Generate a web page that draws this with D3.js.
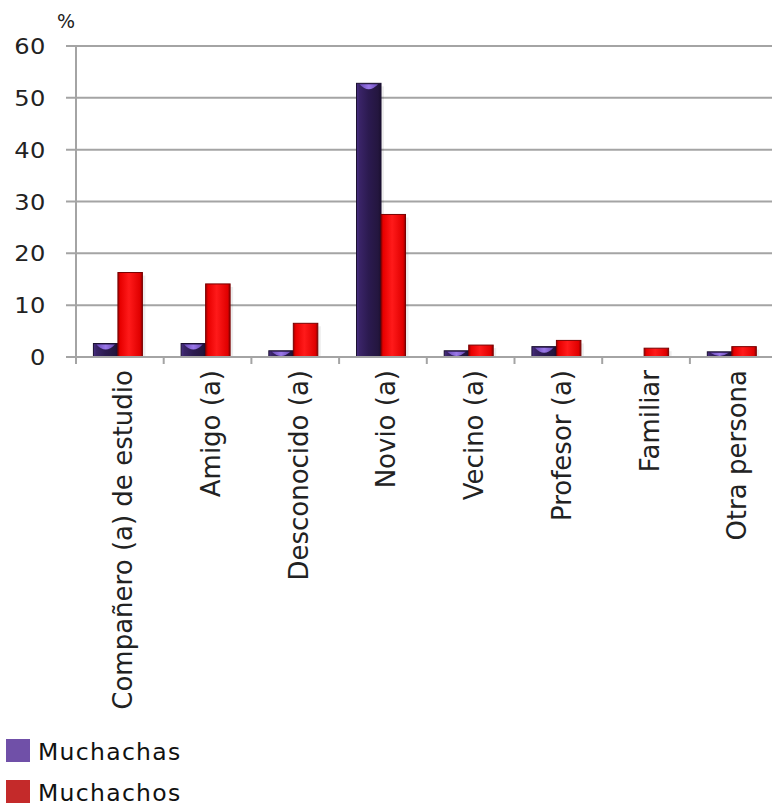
<!DOCTYPE html>
<html>
<head>
<meta charset="utf-8">
<script src="https://cdn.jsdelivr.net/npm/d3@7/dist/d3.min.js"></script>
<style>
  html, body { margin: 0; padding: 0; background: #fff; }
  svg { display: block; font-family: "DejaVu Sans", Verdana, sans-serif; }
</style>
</head>
<body>
<div id="chart"></div>
<script>
// Agresor según sexo de la víctima (%)
const categories = [
  "Compañero (a) de estudio",
  "Amigo (a)",
  "Desconocido (a)",
  "Novio (a)",
  "Vecino (a)",
  "Profesor (a)",
  "Familiar",
  "Otra persona"
];
const seriesNames = ["Muchachas", "Muchachos"];
const muchachas = [2.6, 2.6, 1.2, 52.8, 1.2, 2.0, 0, 1.0];
const muchachos = [16.3, 14.1, 6.5, 27.5, 2.3, 3.2, 1.7, 2.0];
const yTicks = [0, 10, 20, 30, 40, 50, 60];
const unitLabel = "%";

const W = 772, H = 809;
const plotLeft = 76, plotTop = 46, plotBottom = 357;
const step = 87.7;

const svg = d3.select("#chart").append("svg")
  .attr("width", W).attr("height", H);

const defs = svg.append("defs");
function hGrad(id, stops) {
  const g = defs.append("linearGradient").attr("id", id)
    .attr("x1", "0").attr("x2", "1").attr("y1", "0").attr("y2", "0");
  stops.forEach(([o, c]) => g.append("stop").attr("offset", o).attr("stop-color", c));
}
hGrad("gPurple", [[0, "#4a2f86"], [0.12, "#3a2468"], [0.5, "#2b1a4f"], [0.88, "#24163f"], [1, "#1a0f30"]]);
hGrad("gPurpleTop", [[0, "#6a4ab8"], [0.5, "#9a78e8"], [1, "#6a4ab8"]]);
hGrad("gRed", [[0, "#9a0000"], [0.1, "#e80000"], [0.45, "#ff1a1a"], [0.9, "#e00000"], [1, "#8a0000"]]);

const y = d3.scaleLinear().domain([0, 60]).range([plotBottom, plotTop]);
const x = d3.scaleBand().domain(categories)
  .range([plotLeft, plotLeft + step * categories.length]).paddingInner(0).paddingOuter(0);
const xs = d3.scaleBand().domain(seriesNames)
  .range([0, x.bandwidth()]).paddingInner(0).paddingOuter(0.79).align(0.45);

// Horizontal gridlines (also serve as the y tick marks)
svg.append("g").selectAll("line").data(yTicks).join("line")
  .attr("x1", plotLeft - 10).attr("x2", W)
  .attr("y1", d => y(d)).attr("y2", d => y(d))
  .attr("stroke", "#a4a4a4").attr("stroke-width", 2);

// Y axis labels
const yAxis = d3.axisLeft(y).tickValues(yTicks).tickSize(0).tickPadding(0);
const yg = svg.append("g").attr("transform", `translate(${plotLeft - 30},0)`).call(yAxis);
yg.select(".domain").remove();
yg.selectAll("text")
  .attr("font-size", 21)
  .attr("font-family", "DejaVu Sans, Verdana, sans-serif")
  .attr("fill", "#222")
  .attr("letter-spacing", 0.5)
  .attr("text-anchor", "end")
  .attr("x", 0)
  .attr("dy", "0.36em")
  .attr("transform", "scale(1.15,1)");

// Unit label
svg.append("text").text(unitLabel)
  .attr("x", 66).attr("y", 28)
  .attr("text-anchor", "middle")
  .attr("font-size", 19).attr("fill", "#222");

// Left axis line
svg.append("line")
  .attr("x1", plotLeft).attr("x2", plotLeft)
  .attr("y1", plotTop).attr("y2", plotBottom + 7)
  .attr("stroke", "#a4a4a4").attr("stroke-width", 2);

// Category boundary ticks under the baseline
svg.append("g").selectAll("line").data(d3.range(categories.length + 1)).join("line")
  .attr("x1", i => plotLeft + i * x.step()).attr("x2", i => plotLeft + i * x.step())
  .attr("y1", plotBottom).attr("y2", plotBottom + 7)
  .attr("stroke", "#a4a4a4").attr("stroke-width", 2);

// Bars
const rows = categories.map((c, i) => ({ cat: c, vals: [
  { s: "Muchachas", v: muchachas[i] },
  { s: "Muchachos", v: muchachos[i] }
]}));

const groups = svg.append("g").selectAll("g").data(rows).join("g")
  .attr("transform", d => `translate(${x(d.cat)},0)`);

// faint shadow to the right of each bar
groups.selectAll("rect.shadow").data(d => d.vals.filter(e => e.v > 0)).join("rect")
  .attr("class", "shadow")
  .attr("x", d => xs(d.s) + xs.bandwidth())
  .attr("y", d => y(d.v) + 3)
  .attr("width", 3)
  .attr("height", d => y(0) - y(d.v) - 3)
  .attr("fill", "#000").attr("opacity", 0.07);

groups.selectAll("rect.bar").data(d => d.vals.filter(e => e.v > 0)).join("rect")
  .attr("class", "bar")
  .attr("x", d => xs(d.s))
  .attr("y", d => y(d.v))
  .attr("width", xs.bandwidth())
  .attr("height", d => y(0) - y(d.v))
  .attr("fill", d => d.s === "Muchachas" ? "url(#gPurple)" : "url(#gRed)")
  .attr("stroke", d => d.s === "Muchachas" ? "#1a0f30" : "#7a0000")
  .attr("stroke-width", 1);

// light cap on top of the purple bars
groups.selectAll("path.cap").data(d => d.vals.filter(e => e.s === "Muchachas" && e.v > 0)).join("path")
  .attr("class", "cap")
  .attr("d", d => {
    const x0 = xs(d.s) + 3, x1 = xs(d.s) + xs.bandwidth() - 3;
    const y0 = y(d.v) + 1;
    const h = Math.min(5, (y(0) - y(d.v)) - 2);
    return `M${x0},${y0} L${x1},${y0} Q${(x0 + x1) / 2},${y0 + 2 * h} ${x0},${y0} Z`;
  })
  .attr("fill", "url(#gPurpleTop)");

// Baseline
svg.append("line")
  .attr("x1", plotLeft - 10).attr("x2", W)
  .attr("y1", plotBottom).attr("y2", plotBottom)
  .attr("stroke", "#a4a4a4").attr("stroke-width", 2);

// Category labels, rotated
svg.append("g").selectAll("text").data(categories).join("text")
  .text(d => d)
  .attr("transform", d => `translate(${x(d) + x.bandwidth() / 2 + 12.5},370) rotate(-90)`)
  .attr("text-anchor", "end")
  .attr("font-size", 26)
  .attr("fill", "#222");

// Legend
const legendColors = ["#7050a8", "#c42a2a"];
const lg = svg.append("g").selectAll("g").data(seriesNames).join("g")
  .attr("transform", (d, i) => `translate(6,${739 + i * 41})`);
lg.append("rect").attr("width", 24).attr("height", 23)
  .attr("fill", (d, i) => legendColors[i]);
lg.append("text").text(d => d)
  .attr("x", 32).attr("y", 21)
  .attr("font-size", 23.5).attr("letter-spacing", 1.3)
  .attr("fill", "#111");
</script>
</body>
</html>
